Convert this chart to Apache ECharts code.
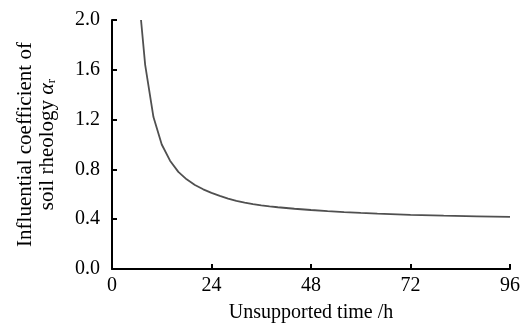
<!DOCTYPE html>
<html>
<head>
<meta charset="utf-8">
<script src="https://cdn.jsdelivr.net/npm/echarts@6/dist/echarts.min.js"></script>
<style>html,body{margin:0;padding:0;background:#fff;}#c{width:527px;height:329px;}</style>
</head>
<body>
<div id="c"></div>
<script>
const hours = [7, 8, 10, 12, 14, 16, 18, 20, 22, 24, 26, 28, 30, 32, 34, 36, 38, 40, 44, 48, 52, 56, 60, 64, 72, 80, 88, 96];
const alphaR = [2.00, 1.64, 1.22, 1.00, 0.87, 0.78, 0.72, 0.675, 0.64, 0.612, 0.588, 0.566, 0.548, 0.533, 0.521, 0.511, 0.503, 0.496, 0.484, 0.474, 0.465, 0.457, 0.450, 0.444, 0.434, 0.428, 0.423, 0.418];
const xTicks = [0, 24, 48, 72, 96];
const yTicks = [0.0, 0.4, 0.8, 1.2, 1.6, 2.0];

const font = 'Liberation Serif, Times New Roman, serif';
const chart = echarts.init(document.getElementById('c'));
chart.setOption({
  animation: false,
  grid: {left: 112, right: 17, top: 20, bottom: 60, containLabel: false, outerBoundsMode: 'none'},
  xAxis: {
    type: 'value', min: xTicks[0], max: xTicks[xTicks.length - 1], interval: 24,
    name: 'Unsupported time /h', nameLocation: 'middle', nameGap: 34,
    nameTextStyle: {fontFamily: font, fontSize: 20, color: '#000'},
    axisLine: {show: true, lineStyle: {color: '#000', width: 2}},
    axisTick: {show: true, inside: true, length: 5, lineStyle: {color: '#000', width: 2}},
    axisLabel: {fontFamily: font, fontSize: 20, color: '#000', margin: 7},
    splitLine: {show: false}
  },
  yAxis: {
    type: 'value', min: yTicks[0], max: yTicks[yTicks.length - 1], interval: 0.4,
    name: '{a|Influential coefficient of}\n{a|soil rheology }{g|α}{s|r}',
    nameLocation: 'middle', nameRotate: 90, nameGap: 54,
    nameTextStyle: {
      fontFamily: font, fontSize: 21, color: '#000', lineHeight: 22, align: 'center',
      padding: [0, 0, 0, 0],
      rich: {
        a: {fontFamily: font, fontSize: 21, color: '#000', lineHeight: 22},
        g: {fontFamily: font, fontSize: 22, fontStyle: 'italic', color: '#000', lineHeight: 22},
        s: {fontFamily: font, fontSize: 13, color: '#000', lineHeight: 22, verticalAlign: 'bottom', padding: [8, 0, 0, 0]}
      }
    },
    axisLine: {show: true, lineStyle: {color: '#000', width: 2}},
    axisTick: {show: true, inside: true, length: 5, lineStyle: {color: '#000', width: 2}},
    axisLabel: {fontFamily: font, fontSize: 20, color: '#000', margin: 12,
      formatter: v => v.toFixed(1)},
    splitLine: {show: false}
  },
  series: [{
    type: 'line', data: hours.map((h, i) => [h, alphaR[i]]),
    smooth: false, showSymbol: false, clip: true,
    lineStyle: {color: '#505050', width: 1.8}
  }]
});
</script>
</body>
</html>
